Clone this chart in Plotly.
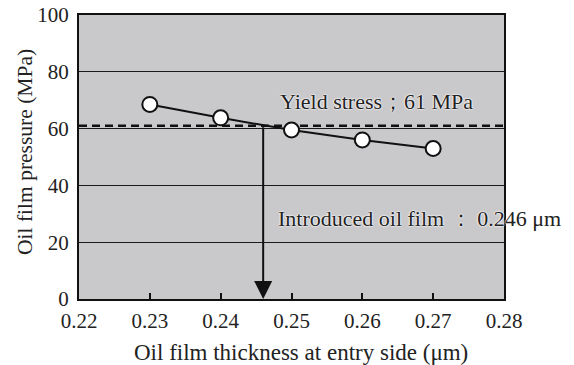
import plotly.graph_objects as go

# Measured entry-side oil film thickness vs. oil film pressure
thickness_um = [0.23, 0.24, 0.25, 0.26, 0.27]
pressure_mpa = [68.5, 63.8, 59.5, 56.0, 53.0]

yield_stress = 61
introduced_film = 0.246

x_ticks = [0.22, 0.23, 0.24, 0.25, 0.26, 0.27, 0.28]
x_tick_text = ["0.22", "0.23", "0.24", "0.25", "0.26", "0.27", "0.28"]
y_ticks = [0, 20, 40, 60, 80, 100]

serif = "Liberation Serif, Times New Roman, serif"
halo = "0 0 2px white, 0 0 2px white, 0 0 1px white"

fig = go.Figure()

# yield stress level
fig.add_trace(go.Scatter(
    x=[x_ticks[0], x_ticks[-1]], y=[yield_stress, yield_stress],
    mode="lines", line=dict(color="#111", width=2.5, dash="8px,5px"),
    hoverinfo="skip", showlegend=False,
))

fig.add_trace(go.Scatter(
    x=thickness_um, y=pressure_mpa, mode="lines+markers",
    line=dict(color="#111", width=2),
    marker=dict(size=15, color="white", line=dict(color="#111", width=2)),
    showlegend=False,
))

# arrow from the yield-stress crossing down to the axis
fig.add_annotation(
    x=introduced_film, y=0, ax=introduced_film, ay=yield_stress,
    xref="x", yref="y", axref="x", ayref="y",
    showarrow=True, arrowhead=2, arrowsize=1.8, arrowwidth=2,
    arrowcolor="#111", text="",
)

fig.add_annotation(
    x=0.70, y=0.697, xref="paper", yref="paper", showarrow=False,
    xanchor="center", yanchor="middle",
    text="Yield stress；61 MPa",
    font=dict(family=serif, size=22, color="#222", shadow=halo),
)
fig.add_annotation(
    x=0.802, y=0.285, xref="paper", yref="paper", showarrow=False,
    xanchor="center", yanchor="middle",
    text="Introduced oil film ： 0.246 μm",
    font=dict(family=serif, size=22, color="#222", shadow=halo),
)

# axis titles
fig.add_annotation(
    x=0.522, y=-0.187, xref="paper", yref="paper", showarrow=False,
    xanchor="center", yanchor="middle",
    text="Oil film thickness at entry side (μm)",
    font=dict(family=serif, size=23, color="#222"),
)
fig.add_annotation(
    x=-0.127, y=0.518, xref="paper", yref="paper", showarrow=False,
    xanchor="center", yanchor="middle", textangle=-90,
    text="Oil film pressure (MPa)",
    font=dict(family=serif, size=21.5, color="#222"),
)

fig.update_layout(
    width=574, height=365,
    margin=dict(l=79, r=70, t=15, b=66),
    paper_bgcolor="white", plot_bgcolor="#c9c9cc",
    font=dict(family=serif, size=21, color="#222"),
    xaxis=dict(
        range=[0.22, 0.28], tickvals=x_ticks, ticktext=x_tick_text,
        showgrid=False, zeroline=False, automargin=False,
        showline=True, linecolor="#111", linewidth=2, mirror=True,
        ticks="inside", ticklen=6, tickcolor="#111", tickwidth=1.5,
        ticklabelstandoff=2,
        tickfont=dict(size=21),
    ),
    yaxis=dict(
        range=[0, 100], tickvals=y_ticks,
        showgrid=True, gridcolor="#1a1a1a", gridwidth=1.3, zeroline=False,
        automargin=False,
        showline=True, linecolor="#111", linewidth=2, mirror=True,
        ticks="", ticklabelstandoff=4,
        tickfont=dict(size=21),
    ),
)

fig.write_html("out.html")
